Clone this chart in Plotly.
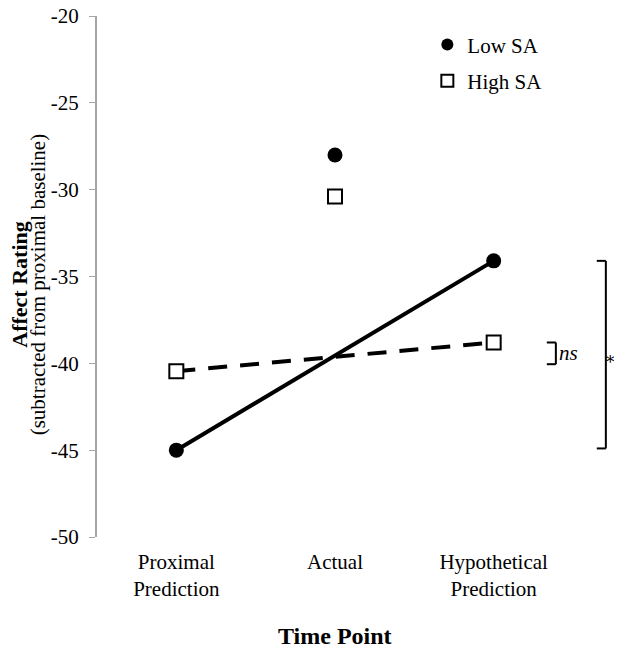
import plotly.graph_objects as go

categories = ["Proximal<br>Prediction", "Actual", "Hypothetical<br>Prediction"]
low_sa = [-45.0, -28.0, -34.1]
high_sa = [-40.45, -30.4, -38.8]
y_ticks = [-50, -45, -40, -35, -30, -25, -20]
ns_bracket = [-38.8, -40.05]
sig_bracket = [-34.1, -44.9]

FONT = "Liberation Serif"

fig = go.Figure()

# connecting lines (Proximal -> Hypothetical)
fig.add_trace(go.Scatter(
    x=[categories[0], categories[2]], y=[low_sa[0], low_sa[2]],
    mode="lines", line=dict(color="black", width=4),
    showlegend=False, hoverinfo="skip"))
fig.add_trace(go.Scatter(
    x=[categories[0], categories[2]], y=[high_sa[0], high_sa[2]],
    mode="lines", line=dict(color="black", width=4, dash="19px,13px"),
    showlegend=False, hoverinfo="skip"))

fig.add_trace(go.Scatter(
    x=categories, y=low_sa, mode="markers", name="Low SA", legendgroup="a",
    marker=dict(symbol="circle", size=15, color="black")))
fig.add_trace(go.Scatter(
    x=categories, y=high_sa, mode="markers", name="High SA", legendgroup="b",
    marker=dict(symbol="square", size=14, color="white",
                line=dict(color="black", width=2))))

shapes = []
def bracket(x_tick, x_vert, y0, y1):
    return [
        dict(type="line", xref="paper", yref="y", x0=x_tick, x1=x_vert, y0=y0, y1=y0,
             line=dict(color="black", width=2)),
        dict(type="line", xref="paper", yref="y", x0=x_vert, x1=x_vert, y0=y0, y1=y1,
             line=dict(color="black", width=2)),
        dict(type="line", xref="paper", yref="y", x0=x_tick, x1=x_vert, y0=y1, y1=y1,
             line=dict(color="black", width=2)),
    ]
shapes += bracket(0.945, 0.964, ns_bracket[0], ns_bracket[1])
shapes += bracket(1.050, 1.069, sig_bracket[0], sig_bracket[1])

annotations = [
    dict(text="<i>ns</i>", xref="paper", yref="y", x=0.966, y=sum(ns_bracket) / 2,
         xanchor="left", yanchor="middle", showarrow=False,
         font=dict(family=FONT, size=21, color="black")),
    dict(text="*", xref="paper", yref="y", x=1.079, y=-39.9,
         xanchor="center", yanchor="middle", showarrow=False,
         font=dict(family="DejaVu Serif", size=17, color="black")),
    dict(text="<b>Affect Rating</b>", xref="paper", yref="paper", x=-0.163, y=0.485,
         xanchor="center", yanchor="middle", textangle=-90, showarrow=False,
         font=dict(family=FONT, size=22, color="black")),
    dict(text="(subtracted from proximal baseline)", xref="paper", yref="paper",
         x=-0.124, y=0.485, xanchor="center", yanchor="middle", textangle=-90,
         showarrow=False, font=dict(family=FONT, size=21, color="black")),
    dict(text="<b>Time Point</b>", xref="paper", yref="paper", x=0.5, y=-0.19,
         xanchor="center", yanchor="middle", showarrow=False,
         font=dict(family=FONT, size=24, color="black")),
]

# the page adds an 8px body margin, so the figure is 8px smaller on each axis
fig.update_layout(
    width=614, height=641,
    margin=dict(l=89, r=49, t=8, b=112, autoexpand=False),
    paper_bgcolor="white", plot_bgcolor="white",
    font=dict(family=FONT, size=21, color="black"),
    showlegend=True,
    legend=dict(x=0.694, y=0.984, xanchor="left", yanchor="top",
                bgcolor="rgba(0,0,0,0)", font=dict(family=FONT, size=21),
                itemsizing="constant", tracegroupgap=6, itemwidth=30),
    shapes=shapes, annotations=annotations,
)
fig.update_xaxes(
    type="category", categoryorder="array", categoryarray=categories,
    range=[-0.5, 2.5], showline=False, showgrid=False, zeroline=False,
    ticks="", ticklabelstandoff=10, automargin=False,
    tickfont=dict(family=FONT, size=21, color="black"))
fig.update_yaxes(
    range=[-50, -20], tickvals=y_ticks, ticktext=[str(v) for v in y_ticks],
    showline=True, linecolor="#a6a6a6", linewidth=2,
    ticks="outside", ticklen=6, tickcolor="#a6a6a6", tickwidth=1,
    showgrid=False, zeroline=False, ticklabelstandoff=6, automargin=False,
    ticklabeloverflow="allow",
    tickfont=dict(family=FONT, size=21, color="black"))

fig.write_html("out.html")
